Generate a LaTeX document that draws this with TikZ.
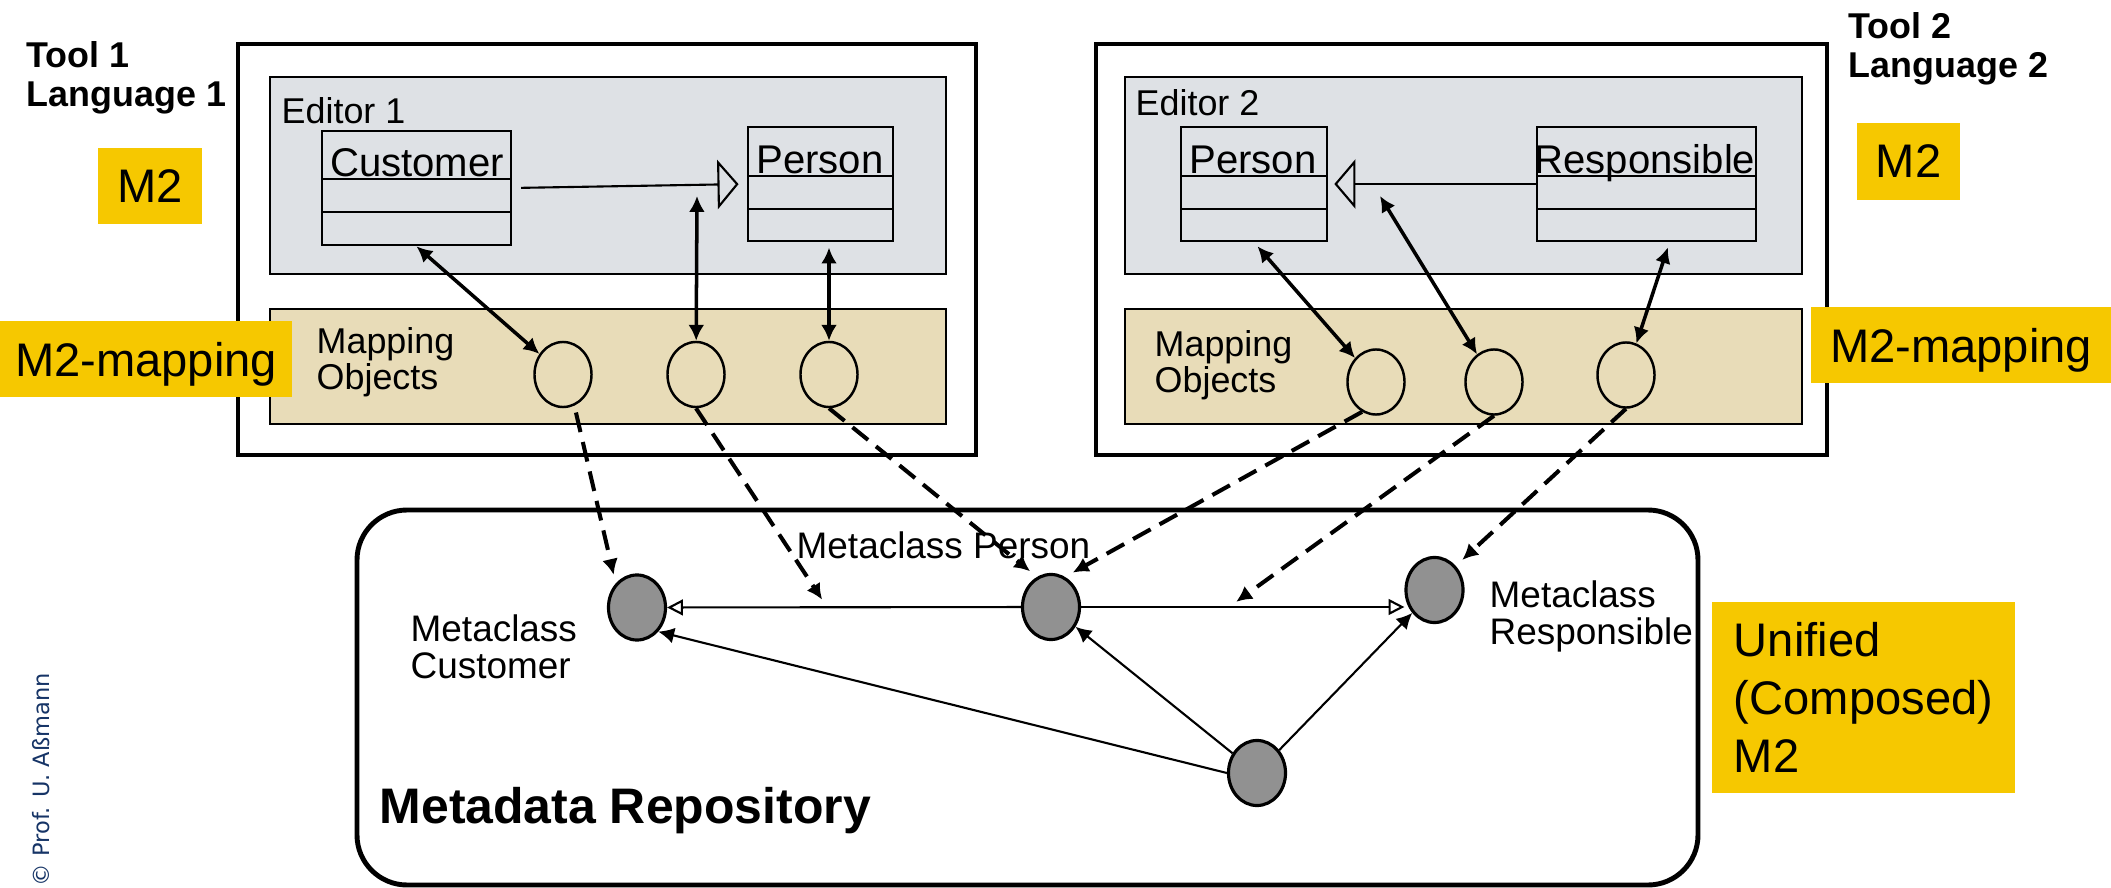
\documentclass[tikz,border=0pt]{standalone}
\usepackage{fontspec}
\setmainfont{Liberation Sans}
\newfontfamily\crfont{DejaVu Sans}
\usetikzlibrary{arrows.meta,shapes.geometric}

\definecolor{editorgray}{RGB}{222,225,229}
\definecolor{maptan}{RGB}{232,220,184}
\definecolor{labelyellow}{RGB}{246,200,0}
\definecolor{metagray}{RGB}{145,145,145}
\definecolor{crblue}{RGB}{22,52,102}

\tikzset{
  cls/.style={draw,line width=0.75pt,inner sep=0pt,minimum height=1.14cm},
  clsname/.style={anchor=base,inner sep=0pt,font=\fontsize{11.4}{11.4}\selectfont},
  txt/.style={inner sep=0pt,font=\fontsize{10.2}{10.2}\selectfont},
  metatxt/.style={inner sep=0pt,align=left,font=\fontsize{10.5}{10.5}\selectfont},
  toolname/.style={anchor=north west,inner sep=0pt,align=left,font=\bfseries\fontsize{10.2}{11.1}\selectfont},
  yellowlbl/.style={fill=labelyellow,inner sep=0pt,text depth=0pt,font=\fontsize{13.4}{16.4}\selectfont},
  mapobj/.style={ellipse,draw,line width=0.7pt,fill=maptan,minimum width=0.57cm,minimum height=0.65cm,inner sep=0pt},
  metacls/.style={ellipse,draw,line width=0.9pt,fill=metagray,minimum width=0.57cm,minimum height=0.65cm,inner sep=0pt},
  maplink/.style={<->,line width=1pt},
  dashlink/.style={->,line width=1.15pt,dash pattern=on 5.7pt off 2.9pt,shorten >=2.5pt},
  thinlink/.style={->,line width=0.6pt},
  genlink/.style={-{Triangle[open,length=6pt,width=14pt]},line width=0.6pt},
  smallgen/.style={-{Triangle[open,length=4.5pt,width=4.5pt]},line width=0.6pt},
}

\begin{document}
\begin{tikzpicture}[x=0.01cm,y=-0.01cm,>={Latex[length=4.5pt,width=4.5pt]}]
\useasboundingbox (0,0) rectangle (2111,888);

% tool frames
\draw[line width=1.4pt] (238,44) rectangle (976,455);
\draw[line width=1.4pt] (1096,44) rectangle (1827,455);
\draw[line width=0.75pt,fill=editorgray] (270,77) rectangle (946,274);
\draw[line width=0.75pt,fill=maptan] (270,309) rectangle (946,424);
\draw[line width=0.75pt,fill=editorgray] (1125,77) rectangle (1802,274);
\draw[line width=0.75pt,fill=maptan] (1125,309) rectangle (1802,424);

\node[txt,anchor=base west] (ed1) at (281,124) {Editor 1};
\node[txt,anchor=base west] (ed2) at (1135,116) {Editor 2};
\node[txt,anchor=north west,align=left] (mo1) at (316,327) {Mapping\\Objects};
\node[txt,anchor=north west,align=left] (mo2) at (1154,330) {Mapping\\Objects};

% classes
\node[cls,minimum width=1.89cm] (cust) at (416.5,188) {};
\draw[line width=0.75pt] (322,179) -- (511,179) (322,212) -- (511,212);
\node[clsname] (custname) at (417,177) {Customer};

\node[cls,minimum width=1.45cm] (pers1) at (820.5,184) {};
\draw[line width=0.75pt] (748,176) -- (893,176) (748,209) -- (893,209);
\node[clsname] (pers1name) at (820,174) {Person};

\node[cls,minimum width=1.46cm] (pers2) at (1254,184) {};
\draw[line width=0.75pt] (1181,176) -- (1327,176) (1181,209) -- (1327,209);
\node[clsname] (pers2name) at (1253,174) {Person};

\node[cls,minimum width=2.19cm] (resp) at (1646.5,184) {};
\draw[line width=0.75pt] (1537,176) -- (1756,176) (1537,209) -- (1756,209);
\node[clsname] (respname) at (1645,174) {Responsible};

\draw[genlink,shorten <=2.5pt,shorten >=2.3pt] (cust.east) -- (pers1.west);
\draw[genlink,shorten >=1.7pt] (resp.west) -- (pers2.east);

% mapping objects
\node[mapobj] (map11) at (563,374.5) {};
\node[mapobj] (map12) at (696,374.5) {};
\node[mapobj] (map13) at (829,374.5) {};
\node[mapobj] (map21) at (1376,382) {};
\node[mapobj] (map22) at (1494,382) {};
\node[mapobj] (map23) at (1626,375) {};

\coordinate (g1) at (697,196);
\coordinate (g2) at (1380,196);

\draw[maplink] (cust.south) -- (map11);
\draw[maplink] (g1) -- (map12);
\draw[maplink,shorten <=1.5pt] (pers1.south -| map13) -- (map13);
\draw[maplink,shorten <=1.5pt] (pers2.south) -- (map21);
\draw[maplink] (g2) -- (map22);
\draw[maplink,shorten <=1.5pt] ([xshift=0.23cm]resp.south) -- (map23);

% repository
\draw[line width=1.4pt,rounded corners=0.5cm] (357,510) rectangle (1698,885);
\node[anchor=base west,inner sep=0pt,font=\bfseries\fontsize{14.2}{14.2}\selectfont] (repo) at (379,823) {Metadata Repository};

\node[metacls] (mccust) at (637,607.5) {};
\node[metacls] (mcpers) at (1051,607) {};
\node[metacls] (mcresp) at (1434.5,590) {};
\node[metacls] (mcroot) at (1257,773) {};

\node[metatxt,anchor=north west] (mccustname) at (410,614.5) {Metaclass\\Customer};
\node[metatxt,anchor=base west] (mcpersname) at (796,558) {Metaclass Person};
\node[metatxt,anchor=north west] (mcrespname) at (1489,580.5) {Metaclass\\Responsible};

\draw[smallgen] (mcpers) -- (mccust);
\draw[smallgen] (mcpers.east) -- (mcpers.east -| mcresp.west);
\draw[thinlink] (mcroot.west) -- (mccust.south east);
\draw[thinlink] (mcroot) -- (mcpers);
\draw[thinlink] (mcroot) -- (mcresp);

\coordinate (p1) at (827,607);
\coordinate (p2) at (1229,607);

\draw[dashlink,shorten <=2pt] (map11.-70) -- (mccust.north west);
\draw[dashlink] (map12.south) -- (p1);
\draw[dashlink] (map13.south) -- (mcpers.115);
\draw[dashlink] (map21.-115) -- (mcpers.65);
\draw[dashlink] (map22.south) -- (p2);
\draw[dashlink] (map23.south) -- (mcresp.north east);

% labels
\node[toolname] (tool1) at (26,41) {Tool 1\\Language 1};
\node[toolname] (tool2) at (1848,12) {Tool 2\\Language 2};
\node[yellowlbl,minimum width=1.04cm,minimum height=0.76cm] (m2a) at (150,186) {M2};
\node[yellowlbl,minimum width=1.03cm,minimum height=0.77cm] (m2b) at (1908.5,161.5) {M2};
\node[yellowlbl,minimum width=2.92cm,minimum height=0.76cm] (m2mapa) at (146,359) {M2-mapping};
\node[yellowlbl,minimum width=3cm,minimum height=0.76cm] (m2mapb) at (1961,345) {M2-mapping};
\node[yellowlbl,minimum width=3.03cm,minimum height=1.91cm,align=left] (unified) at (1863.5,697.5) {Unified\\(Composed)\\M2};

\node[rotate=90,anchor=base west,inner sep=0pt,text=crblue,font=\crfont\fontsize{6.4}{6.4}\selectfont] (copyr) at (50,887) {© Prof. U. Aßmann};

\end{tikzpicture}
\end{document}
